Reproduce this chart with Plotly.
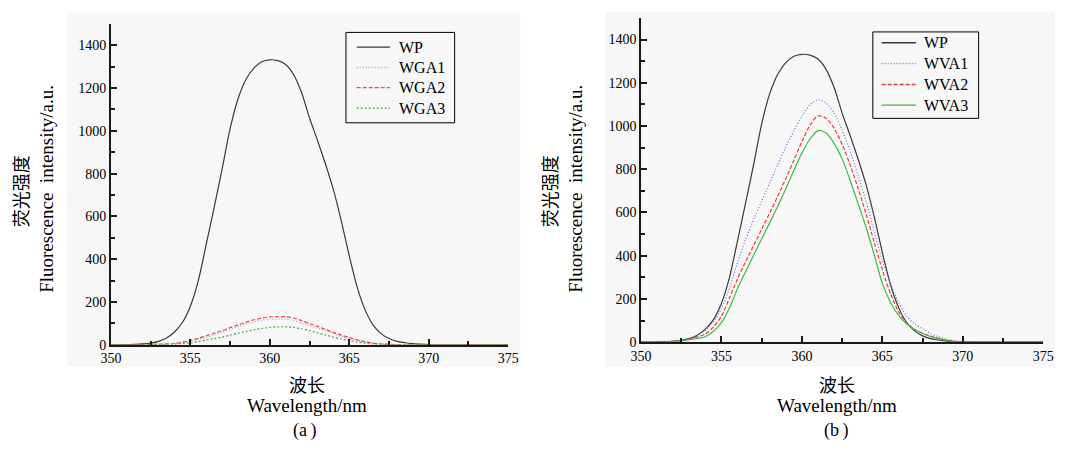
import plotly.graph_objects as go

W, H = 1066, 452

wavelength = [350.0, 350.5, 351.0, 351.5, 352.0, 352.5, 353.0, 353.5, 354.0, 354.5,
              355.0, 355.5, 356.0, 356.5, 357.0, 357.5, 358.0, 358.5, 359.0, 359.5,
              360.0, 360.5, 361.0, 361.5, 362.0, 362.5, 363.0, 363.5, 364.0, 364.5,
              365.0, 365.5, 366.0, 366.5, 367.0, 367.5, 368.0, 368.5, 369.0, 369.5,
              370.0, 370.5, 371.0, 371.5, 372.0, 372.5, 373.0, 373.5, 374.0, 374.5,
              375.0]

wp = [0, 0, 1, 2, 4, 8, 16, 32, 60, 104,
      180, 300, 470, 644, 822, 1010, 1150, 1240, 1293, 1323,
      1332, 1328, 1310, 1262, 1178, 1060, 955, 845, 725, 578,
      415, 268, 162, 92, 52, 29, 16, 10, 5, 3,
      1, 0, 0, 0, 0, 0, 0, 0, 0, 0,
      0]

wga1 = [0, 0, 0, 0, 0, 1, 2, 3, 6, 10,
        17, 26, 36, 47, 58, 71, 84, 97, 108, 115,
        119, 120, 119, 113, 102, 90, 78, 65, 52, 40,
        29, 20, 12, 7, 4, 2, 1, 0, 0, 0,
        0, 0, 0, 0, 0, 0, 0, 0, 0, 0,
        0]

wga2 = [0, 0, 0, 0, 1, 2, 3, 4, 6, 12,
        20, 30, 42, 54, 66, 80, 93, 106, 117, 125,
        130, 132, 131, 125, 113, 99, 86, 72, 58, 45,
        34, 23, 14, 8, 4, 2, 1, 0, 0, 0,
        0, 0, 0, 0, 0, 0, 0, 0, 0, 0,
        0]

wga3 = [0, 0, 0, 0, 0, 1, 1, 2, 3, 6,
        9, 15, 22, 29, 36, 45, 54, 62, 70, 76,
        81, 84, 84, 81, 75, 66, 56, 46, 36, 27,
        19, 13, 8, 4, 2, 1, 0, 0, 0, 0,
        0, 0, 0, 0, 0, 0, 0, 0, 0, 0,
        0]

wva1 = [0, 0, 1, 3, 5, 10, 18, 32, 55, 95,
        155, 250, 368, 475, 568, 652, 737, 822, 903, 978,
        1045, 1098, 1122, 1106, 1060, 982, 882, 770, 648, 510,
        380, 272, 185, 122, 85, 62, 40, 25, 13, 6,
        2, 1, 0, 0, 0, 0, 0, 0, 0, 0,
        0]

wva2 = [0, 0, 1, 2, 4, 8, 14, 24, 38, 70,
        120, 205, 293, 372, 447, 522, 598, 676, 757, 842,
        928, 1003, 1047, 1036, 990, 915, 820, 710, 590, 460,
        335, 225, 142, 90, 60, 42, 28, 18, 9, 4,
        1, 0, 0, 0, 0, 0, 0, 0, 0, 0,
        0]

wva3 = [0, 0, 0, 1, 3, 6, 11, 17, 25, 50,
        90, 159, 248, 326, 402, 478, 553, 630, 710, 795,
        875, 940, 979, 968, 920, 848, 748, 640, 528, 403,
        272, 185, 125, 85, 58, 40, 26, 16, 8, 3,
        1, 0, 0, 0, 0, 0, 0, 0, 0, 0,
        0]

x_ticks = [350, 355, 360, 365, 370, 375]
y_ticks = [0, 200, 400, 600, 800, 1000, 1200, 1400]

SERIF = "Liberation Serif"
CJK = "Noto Sans CJK SC"
BG = "#f7f7f7"
AX = "#1a1a1a"

# series styles: (name, values, color, dash)
panel_a = [("WP", wp, "#3a3a3a", "solid"),
           ("WGA1", wga1, "#9c9ce0", "1px,2px"),
           ("WGA2", wga2, "#e84a4a", "4px,2px"),
           ("WGA3", wga3, "#3cb043", "2px,2px")]
panel_b = [("WP", wp, "#3a3a3a", "solid"),
           ("WVA1", wva1, "#6a6ad8", "1px,2px"),
           ("WVA2", wva2, "#e83a3a", "4px,2px"),
           ("WVA3", wva3, "#3cb843", "solid")]

fig = go.Figure()

for name, vals, color, dash in panel_a:
    fig.add_trace(go.Scatter(x=wavelength, y=vals, name=name, mode="lines",
                             line=dict(color=color, dash=dash, width=1.2, shape="spline", smoothing=0.8),
                             xaxis="x", yaxis="y", showlegend=False))
for name, vals, color, dash in panel_b:
    fig.add_trace(go.Scatter(x=wavelength, y=vals, name=name, mode="lines",
                             line=dict(color=color, dash=dash, width=1.2, shape="spline", smoothing=0.8),
                             xaxis="x2", yaxis="y2", showlegend=False))

def px_x(v):
    return v / W

def px_y(v):
    return 1 - v / H

xax = dict(range=[350, 375], tickvals=x_ticks, ticks="inside", ticklen=6, tickwidth=1.5,
           tickcolor=AX, showline=True, linecolor=AX, linewidth=1.6, showgrid=False,
           zeroline=False, tickfont=dict(family=SERIF, size=14, color="black"),
           minor=dict(ticks="inside", ticklen=4, tickwidth=1.5, tickcolor=AX, dtick=2.5,
                      tick0=350, showgrid=False))
yax = dict(range=[0, 1500], tickvals=y_ticks, ticks="inside", ticklen=6, tickwidth=1.5,
           tickcolor=AX, showline=True, linecolor=AX, linewidth=1.6, showgrid=False,
           zeroline=False, tickfont=dict(family=SERIF, size=14, color="black"),
           minor=dict(ticks="inside", ticklen=4, tickwidth=1.5, tickcolor=AX, dtick=100,
                      tick0=0, showgrid=False))

shapes = [
    dict(type="rect", xref="paper", yref="paper", x0=px_x(57), x1=px_x(520),
         y0=px_y(373), y1=px_y(13), fillcolor=BG, line=dict(width=0), layer="below"),
    dict(type="rect", xref="paper", yref="paper", x0=px_x(607), x1=1,
         y0=px_y(373), y1=px_y(12), fillcolor=BG, line=dict(width=0), layer="below"),
]

fig.update_layout(
    width=W, height=H, margin=dict(l=0, r=0, t=0, b=0),
    paper_bgcolor="white", plot_bgcolor=BG, showlegend=False,
    xaxis=dict(xax, domain=[px_x(102), px_x(507.7)], anchor="y"),
    yaxis=dict(yax, domain=[px_y(351), px_y(24.3)], anchor="x"),
    xaxis2=dict(xax, domain=[px_x(643.3), px_x(1054)], anchor="y2"),
    yaxis2=dict(yax, domain=[px_y(348.3), px_y(18.3)], anchor="x2"),
)

def ann(text, x, y, font, size, angle=0, xanchor="center", height=None):
    fig.add_annotation(text=text, x=px_x(x), y=px_y(y), xref="paper", yref="paper",
                       showarrow=False, xanchor=xanchor, yanchor="middle",
                       textangle=angle, height=height, borderpad=0,
                       font=dict(family=font, size=size, color="black"))

# legends drawn as boxes with sample lines and text
def legend_box(series, x0, x1, y0, y1, row_y, lx0, lx1, tx):
    shapes.append(dict(type="rect", xref="paper", yref="paper", x0=px_x(x0), x1=px_x(x1),
                       y0=px_y(y1), y1=px_y(y0), fillcolor=BG,
                       line=dict(color="black", width=1)))
    for (name, _vals, color, dash), ry in zip(series, row_y):
        shapes.append(dict(type="line", xref="paper", yref="paper", x0=px_x(lx0), x1=px_x(lx1),
                           y0=px_y(ry), y1=px_y(ry),
                           line=dict(color=color, width=1.3, dash=dash)))
        ann(name, tx, ry, SERIF, 16, xanchor="left", height=19)

legend_box(panel_a, 342, 453, 33, 125, [48, 68.7, 89.3, 110], 353, 387, 395)
legend_box(panel_b, 880, 988, 32.5, 120.5, [43.5, 64.8, 86, 107], 889, 924, 931)

fig.update_layout(shapes=shapes)

ylab = "Fluorescence\u00a0\u00a0intensity/a.u."
xlab = ("<span style='font-family:Noto Sans CJK SC;font-size:18px'>波长</span><br>"
        "<span style='font-size:19px'>Wavelength/nm</span>")
# panel (a)
ann("荧光强度", 9, 195, CJK, 18, -90)
ann(ylab, 36, 192, SERIF, 19, -90)
ann(xlab, 302, 401, SERIF, 15.5)
ann("(a\u2009)", 300, 438, SERIF, 18, height=20)
# panel (b)
ann("荧光强度", 549, 195, CJK, 18, -90)
ann(ylab, 576, 192, SERIF, 19, -90)
ann(xlab, 843, 401, SERIF, 15.5)
ann("(b\u2009)", 843, 438, SERIF, 18, height=20)

fig.write_html("out.html")
